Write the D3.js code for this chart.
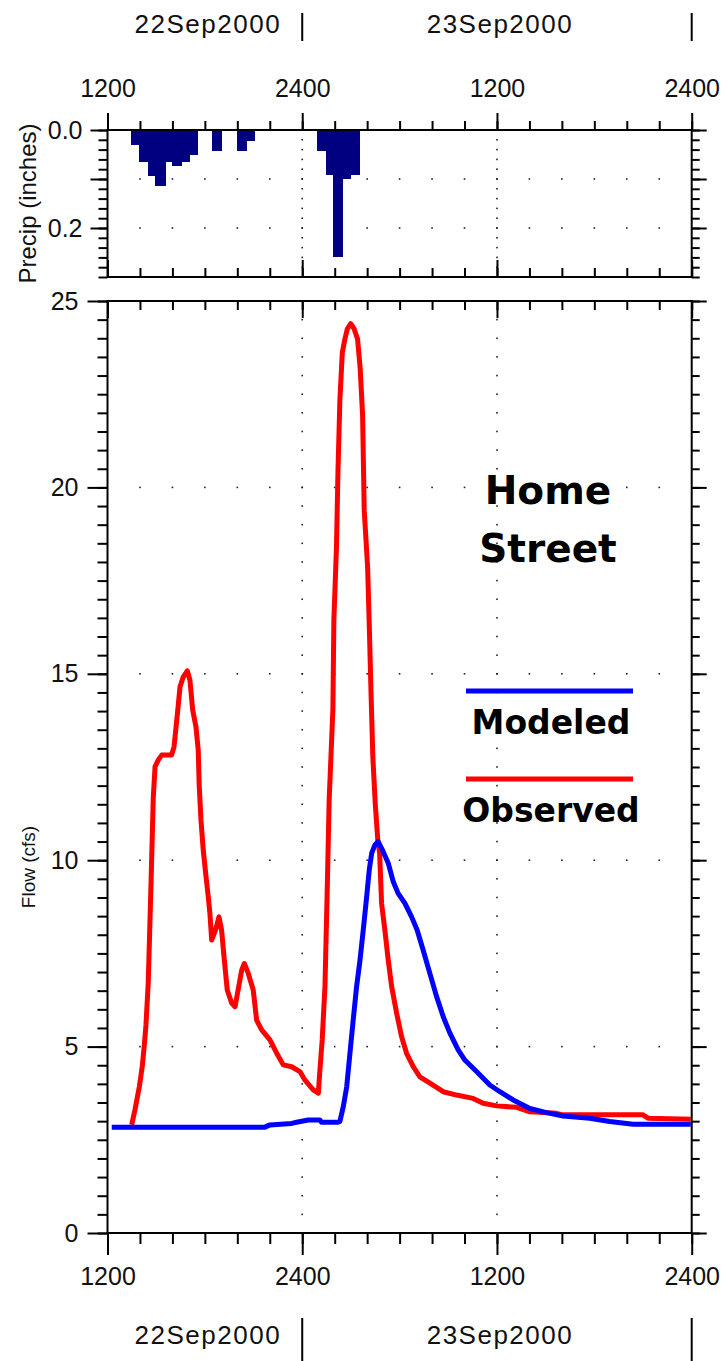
<!DOCTYPE html>
<html>
<head>
<meta charset="utf-8">
<script src="https://cdnjs.cloudflare.com/ajax/libs/d3/7.8.5/d3.min.js"></script>
<style>
body { margin: 0; background: #fff; }
svg text { font-family: "Liberation Sans", Arial, sans-serif; fill: #111; }
.bold { font-family: "DejaVu Sans", sans-serif !important; font-weight: bold; fill: #000; }
</style>
</head>
<body>
<div id="chart"></div>
<script>
// Home Street: observed vs modeled flow, 22-23 Sep 2000
// all times are hours after 1200 on 22Sep2000

var obsHours = [1.49,1.69,1.96,2.14,2.27,2.37,2.51,2.62,2.72,2.82,
    2.93,3.13,3.34,3.95,4.10,4.22,4.32,4.47,4.67,4.92,
    5.08,5.25,5.45,5.59,5.65,5.76,5.90,6.07,6.21,6.31,
    6.42,6.66,6.87,7.03,7.18,7.38,7.65,7.86,8.27,8.43,
    8.67,8.98,9.19,9.50,10.01,10.42,10.83,11.35,11.86,12.17,
    12.68,12.99,13.09,13.23,13.40,13.54,13.66,13.89,13.95,14.11,
    14.20,14.32,14.47,14.63,14.78,14.99,15.20,15.41,15.57,15.72,
    15.82,16.03,16.14,16.24,16.35,16.50,16.66,16.77,16.89,17.09,
    17.30,17.51,17.82,18.12,18.43,18.84,19.25,19.87,20.69,21.51,
    22.53,23.15,23.98,25.21,26.03,27.67,28.08,33.00,33.31,35.94];
var obsFlow = [2.90,3.30,3.92,4.46,5.04,5.58,6.71,8.40,10.01,11.67,
    12.51,12.69,12.82,12.82,13.04,13.55,13.98,14.65,14.92,15.08,
    14.83,14.03,13.58,12.96,12.02,11.08,10.27,9.56,9.02,8.58,
    7.86,8.13,8.48,8.13,7.41,6.52,6.17,6.07,7.05,7.23,
    6.97,6.52,5.71,5.45,5.18,4.83,4.51,4.46,4.33,4.10,
    3.84,3.75,4.37,5.18,6.61,9.20,11.62,14.06,16.45,18.40,
    20.39,22.34,23.62,23.98,24.25,24.39,24.25,23.98,23.20,21.93,
    19.39,17.85,16.16,14.47,12.78,11.51,10.52,10.19,8.84,8.13,
    7.32,6.61,5.89,5.27,4.82,4.46,4.19,4.02,3.79,3.70,
    3.61,3.48,3.41,3.37,3.25,3.21,3.17,3.17,3.08,3.05];

var modHours = [0.26,9.70,10.01,11.35,11.65,12.37,13.09,13.19,14.20,14.32,
    14.53,14.74,14.94,15.14,15.35,15.56,15.76,15.97,16.13,16.28,
    16.48,16.68,16.99,17.30,17.61,17.91,18.33,18.74,19.08,19.45,
    19.86,20.28,20.69,21.10,21.61,22.02,22.74,23.56,24.18,25.00,
    26.03,27.05,28.08,29.72,30.95,32.39,35.94];
var modFlow = [2.84,2.84,2.90,2.94,2.97,3.03,3.03,2.97,2.97,2.99,
    3.39,3.92,4.82,5.71,6.61,7.32,8.13,9.02,9.74,10.19,
    10.41,10.50,10.23,9.92,9.42,9.11,8.84,8.48,8.13,7.59,
    6.97,6.34,5.80,5.36,4.91,4.64,4.33,3.97,3.79,3.57,
    3.34,3.23,3.14,3.08,2.99,2.92,2.92];

// rainfall bars (start hour, end hour, inches)
var rainStart = [1.43,1.96,2.48,2.94,3.56,3.97,4.53,5.08,6.47,7.99,8.57,12.90,13.44,13.90,14.48,14.97];
var rainEnd   = [1.96,2.48,2.94,3.56,3.97,4.53,5.08,5.57,7.05,8.57,9.08,13.44,13.90,14.48,14.97,15.50];
var rainDepth = [0.031,0.065,0.094,0.114,0.065,0.073,0.065,0.051,0.043,0.043,0.022,0.043,0.092,0.259,0.100,0.092];

var hourTicks = [0, 12, 24, 36],
    hourLabels = ["1200", "2400", "1200", "2400"];
var dayNames = ["22Sep2000", "23Sep2000"],
    dayFrom = [0, 12],
    dayTo = [12, 36];
var flowTicks = [0, 5, 10, 15, 20, 25],
    rainTicks = [0, 0.1, 0.2],
    rainLabels = ["0.0", "", "0.2"];

var width = 724,
    height = 1361,
    left = 107.5,
    right = 691.7,
    pTop = 130,
    pBottom = 277,
    fTop = 301,
    fBottom = 1233;

var x = d3.scaleLinear().domain([0, 36]).range([left, right]),
    yP = d3.scaleLinear().domain([0, 0.3]).range([pTop, pBottom]),
    yF = d3.scaleLinear().domain([0, 25]).range([fBottom, fTop]);

var svg = d3.select("#chart").append("svg")
    .attr("width", width)
    .attr("height", height);

var minorHours = d3.range(0, 36.01, 2),
    minorRain = d3.range(0, 0.301, 0.02),
    minorFlow = d3.range(0, 25.01, 0.5);

// dotted grid: vertical at the 2400/1200 ticks, horizontal at labelled values
function gridDots(yScale, minorY, majorY) {
    var dots = [];
    [12, 24].forEach(function(h) {
        minorY.slice(1, -1).forEach(function(v) { dots.push([x(h), yScale(v)]); });
    });
    majorY.slice(1).forEach(function(v) {
        minorHours.slice(1, -1).forEach(function(h) { dots.push([x(h), yScale(v)]); });
    });
    return dots;
}
var dots = gridDots(yP, minorRain, [0, 0.1, 0.2]).concat(gridDots(yF, minorFlow, [0, 5, 10, 15, 20]));
svg.append("g").selectAll("rect")
    .data(dots)
    .enter().append("rect")
    .attr("x", function(d) { return d[0] - 0.8; })
    .attr("y", function(d) { return d[1] - 0.8; })
    .attr("width", 1.6)
    .attr("height", 1.6)
    .attr("fill", "#222");

// precip bars hang down from zero
svg.append("g")
    .attr("shape-rendering", "crispEdges")
    .selectAll("rect")
    .data(rainDepth)
    .enter().append("rect")
    .attr("x", function(d, i) { return x(rainStart[i]); })
    .attr("width", function(d, i) { return x(rainEnd[i]) - x(rainStart[i]) + 0.5; })
    .attr("y", yP(0))
    .attr("height", function(d) { return yP(d) - yP(0); })
    .attr("fill", "#000080");

var line = d3.line()
    .x(function(d) { return x(d[0]); })
    .y(function(d) { return yF(d[1]); });

svg.append("path")
    .datum(d3.zip(obsHours, obsFlow))
    .attr("d", line)
    .attr("fill", "none")
    .attr("stroke", "#ff0000")
    .attr("stroke-width", 5)
    .attr("stroke-linejoin", "round");

svg.append("path")
    .datum(d3.zip(modHours, modFlow))
    .attr("d", line)
    .attr("fill", "none")
    .attr("stroke", "#0000ff")
    .attr("stroke-width", 5)
    .attr("stroke-linejoin", "round");

// frames
[[pTop, pBottom], [fTop, fBottom]].forEach(function(p) {
    svg.append("rect")
        .attr("x", left).attr("y", p[0])
        .attr("width", right - left).attr("height", p[1] - p[0])
        .attr("fill", "none").attr("stroke", "#000").attr("stroke-width", 2);
});

function addAxis(axis, tx, ty) {
    var g = svg.append("g").attr("transform", "translate(" + tx + "," + ty + ")").call(axis);
    g.select(".domain").remove();
    g.attr("font-family", null).attr("font-size", null);
    g.selectAll(".tick line").attr("stroke", "#000").attr("stroke-width", 2);
    g.selectAll(".tick text").style("font-size", "25px");
    return g;
}
var none = function() { return ""; };

// time axes
addAxis(d3.axisTop(x).tickValues(minorHours).tickSize(9).tickFormat(none), 0, pTop);
addAxis(d3.axisTop(x).tickValues(hourTicks).tickSize(17).tickPadding(16)
    .tickFormat(function(d, i) { return hourLabels[i]; }), 0, pTop);
addAxis(d3.axisTop(x).tickValues(minorHours).tickSize(9).tickFormat(none), 0, pBottom);
addAxis(d3.axisTop(x).tickValues(hourTicks).tickSize(17).tickFormat(none), 0, pBottom);
addAxis(d3.axisBottom(x).tickValues(minorHours).tickSize(9).tickFormat(none), 0, fTop);
addAxis(d3.axisBottom(x).tickValues(hourTicks).tickSize(17).tickFormat(none), 0, fTop);
addAxis(d3.axisBottom(x).tickValues(minorHours).tickSize(11).tickFormat(none), 0, fBottom);
addAxis(d3.axisBottom(x).tickValues(hourTicks).tickSize(22).tickPadding(12)
    .tickFormat(function(d, i) { return hourLabels[i]; }), 0, fBottom);

// precip value axes
addAxis(d3.axisLeft(yP).tickValues(minorRain).tickSize(9).tickFormat(none), left, 0);
addAxis(d3.axisLeft(yP).tickValues(rainTicks).tickSize(17).tickPadding(8)
    .tickFormat(function(d, i) { return rainLabels[i]; }), left, 0);
addAxis(d3.axisRight(yP).tickValues(minorRain).tickSize(8).tickFormat(none), right, 0);
addAxis(d3.axisRight(yP).tickValues(rainTicks).tickSize(15).tickFormat(none), right, 0);

// flow value axes
addAxis(d3.axisLeft(yF).tickValues(minorFlow).tickSize(10).tickFormat(none), left, 0);
addAxis(d3.axisLeft(yF).tickValues(flowTicks).tickSize(20).tickPadding(9), left, 0);
addAxis(d3.axisRight(yF).tickValues(minorFlow).tickSize(8).tickFormat(none), right, 0);
addAxis(d3.axisRight(yF).tickValues(flowTicks).tickSize(15).tickFormat(none), right, 0);

// date rows, top and bottom
[[33, 13, 41], [1344, 1318, 1361]].forEach(function(row) {
    svg.append("g").selectAll("text")
        .data(dayNames)
        .enter().append("text")
        .attr("x", function(d, i) { return x((dayFrom[i] + dayTo[i]) / 2) + 3; })
        .attr("y", row[0])
        .attr("text-anchor", "middle")
        .style("font-size", "26px")
        .style("letter-spacing", "1.5px")
        .text(function(d) { return d; });
    svg.append("g").selectAll("line")
        .data(dayTo)
        .enter().append("line")
        .attr("x1", function(d) { return x(d); })
        .attr("x2", function(d) { return x(d); })
        .attr("y1", row[1]).attr("y2", row[2])
        .attr("stroke", "#000").attr("stroke-width", 2);
});

// axis titles
svg.append("text")
    .attr("transform", "translate(36," + ((pTop + pBottom) / 2) + ") rotate(-90)")
    .attr("text-anchor", "middle")
    .style("font-size", "24px")
    .text("Precip (inches)");
svg.append("text")
    .attr("transform", "translate(35,867) rotate(-90)")
    .attr("text-anchor", "middle")
    .style("font-size", "19px")
    .text("Flow (cfs)");

// station name and legend
svg.append("text").attr("class", "bold").attr("x", 548).attr("y", 504)
    .attr("text-anchor", "middle").style("font-size", "39px").text("Home");
svg.append("text").attr("class", "bold").attr("x", 548).attr("y", 562)
    .attr("text-anchor", "middle").style("font-size", "39px").text("Street");

var legendNames = ["Modeled", "Observed"],
    legendColors = ["#0000ff", "#ff0000"];
legendNames.forEach(function(name, i) {
    var ly = 691 + i * 88;
    svg.append("line")
        .attr("x1", 466).attr("x2", 633)
        .attr("y1", ly).attr("y2", ly)
        .attr("stroke", legendColors[i]).attr("stroke-width", 5);
    svg.append("text").attr("class", "bold")
        .attr("x", 551).attr("y", ly + 43)
        .attr("text-anchor", "middle")
        .style("font-size", "33px")
        .text(name);
});
</script>
</body>
</html>
